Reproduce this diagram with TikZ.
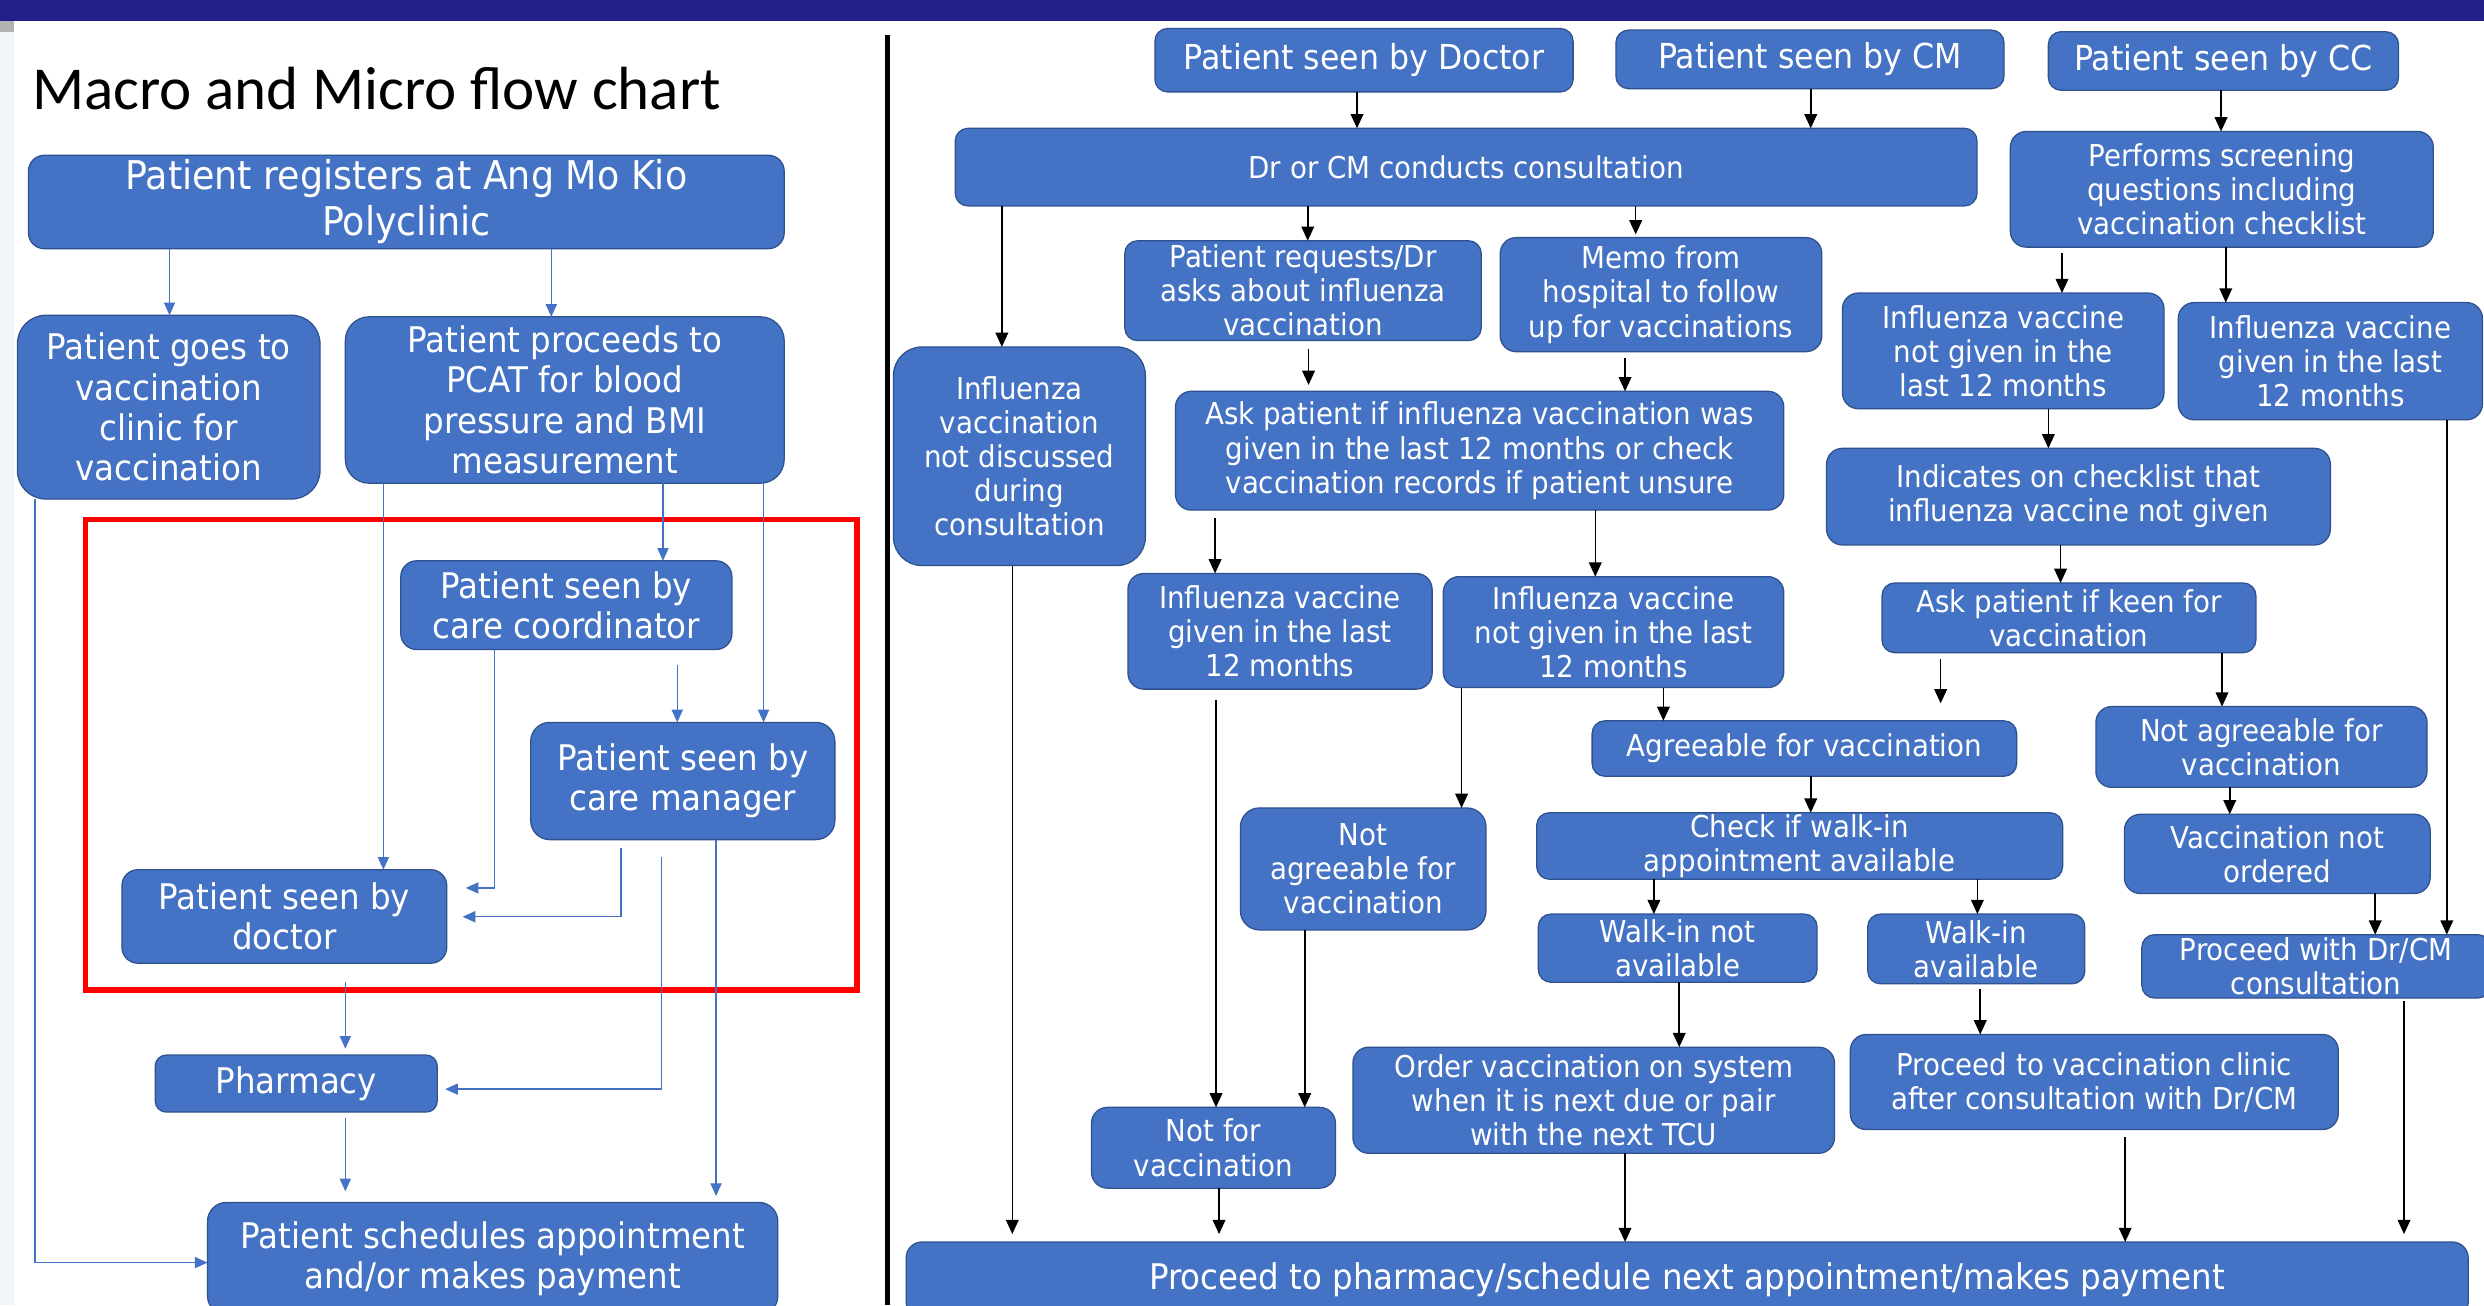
\documentclass[tikz,border=0pt]{standalone}
\usepackage{fontspec}
\setmainfont{DejaVu Sans}[FakeStretch=0.92]
\newfontfamily\titlefont{Carlito}
\usetikzlibrary{arrows.meta}
\definecolor{boxfill}{RGB}{68,114,196}
\definecolor{boxline}{RGB}{47,82,143}
\definecolor{navy}{RGB}{33,32,138}
\definecolor{strip}{RGB}{238,246,252}
\tikzset{
  box/.style={fill=boxfill, draw=boxline, line width=0.8pt, rounded corners=8pt,
    text=white, align=center, inner sep=0pt, outer sep=0pt},
  rf/.style={font={\fontsize{19}{21.5}\selectfont}},
  tf/.style={font={\fontsize{21.7}{24}\selectfont}},
  lf/.style={font={\fontsize{22.3}{25.5}\selectfont}},
  bigf/.style={font={\fontsize{25}{29}\selectfont}},
  barr/.style={draw=boxfill, line width=0.9pt, -{Triangle[width=7pt,length=8pt]}},
  karr/.style={draw=black, line width=1pt, -{Triangle[width=8pt,length=9pt]}},
}
\newcommand\bx[7][]{\node[box,#1,minimum width={(#5-#3)*1pt},minimum height={(#6-#4)*1pt}] (#2) at ({(#3+#5)/2},{(#4+#6)/2}) {#7};}
\newcommand\va[4][]{\draw[karr,#1] (#2.south-|#4,0) -- (#3.north-|#4,0);}
\newcommand\vb[4][]{\draw[barr,#1] (#2.south-|#4,0) -- (#3.north-|#4,0);}
\begin{document}
\begin{tikzpicture}[x=1pt,y=-1pt]
\useasboundingbox (0,0) rectangle (1568,824);
\fill[white] (0,0) rectangle (1568,824);
\fill[strip] (0,13) rectangle (9,824);
\fill[gray!60] (0,13) rectangle (9,20);
\fill[navy] (0,0) rectangle (1568,13);
\draw[black, line width=3pt] (560,22) -- (560,824);

% ---------- left panel ----------
\node[anchor=base west, inner sep=0pt, font={\titlefont\fontsize{38.5}{42}\selectfont}] (title) at (20,69) {Macro and Micro flow chart};

\bx[bigf,rounded corners=10pt]{reg}{18}{98}{495}{157}{Patient registers at Ang Mo Kio\\Polyclinic}
\bx[lf,rounded corners=18pt]{goes}{11}{199}{202}{315}{Patient goes to\\vaccination\\clinic for\\vaccination}
\bx[lf,rounded corners=15pt]{pcat}{218}{200}{495}{305}{Patient proceeds to\\PCAT for blood\\pressure and BMI\\measurement}
\bx[lf,rounded corners=10pt]{cc}{253}{354}{462}{410}{Patient seen by\\care coordinator}
\bx[lf,rounded corners=12pt]{cm}{335}{456}{527}{530}{Patient seen by\\care manager}
\bx[lf,rounded corners=10pt]{doc}{77}{549}{282}{608}{Patient seen by\\doctor}
\bx[lf,rounded corners=7pt]{pharm}{98}{666}{276}{702}{Pharmacy}
\bx[lf,rounded corners=12pt]{sched}{131}{759}{491}{830}{Patient schedules appointment\\and/or makes payment}

\draw[red, line width=3.5pt] (54,328) rectangle (541,625);

\vb{reg}{goes}{107}
\vb{reg}{pcat}{348}
\draw[barr] (goes.south-|22,0) |- (sched.west|-0,797);
\vb{pcat}{doc}{242}
\vb{pcat}{cc}{418.5}
\vb{pcat}{cm}{482}
\vb[shorten <=10pt]{cc}{cm}{427.5}
\draw[barr, shorten >=12pt] (cc.south-|312,0) |- (doc.east|-0,560.5);
\draw[barr, shorten <=5pt, shorten >=10pt] (cm.south-|392,0) |- (doc.east|-0,578.7);
\draw[barr, shorten <=11pt, shorten >=5pt] (cm.south-|417.5,0) |- (pharm.east|-0,687.5);
\vb[shorten >=4pt]{cm}{sched}{452}
\vb[shorten <=12pt, shorten >=4pt]{doc}{pharm}{218}
\vb[shorten <=4pt, shorten >=7pt]{pharm}{sched}{218}

% ---------- right panel ----------
\bx[tf]{pdoc}{729}{18}{993}{58}{Patient seen by Doctor}
\bx[tf]{pcm}{1020}{19}{1265}{56}{Patient seen by CM}
\bx[tf]{pcc}{1293}{20}{1514}{57}{Patient seen by CC}
\bx[rf]{cons}{603}{81}{1248}{130}{Dr or CM conducts consultation}
\bx[rf,rounded corners=10pt]{screen}{1269}{83}{1536}{156}{Performs screening\\questions including\\vaccination checklist}
\bx[rf]{req}{710}{152}{935}{215}{Patient requests/Dr\\asks about influenza\\vaccination}
\bx[rf,rounded corners=10pt]{memo}{947}{150}{1150}{222}{Memo from\\hospital to follow\\up for vaccinations}
\bx[rf,rounded corners=18pt]{notdisc}{564}{219}{723}{357}{Influenza\\vaccination\\not discussed\\during\\consultation}
\bx[rf,rounded corners=10pt]{ngcc}{1163}{185}{1366}{258}{Influenza vaccine\\not given in the\\last 12 months}
\bx[rf,rounded corners=10pt]{gcc}{1375}{191}{1567}{265}{Influenza vaccine\\given in the last\\12 months}
\bx[rf,rounded corners=10pt]{ask}{742}{247}{1126}{322}{Ask patient if influenza vaccination was\\given in the last 12 months or check\\vaccination records if patient unsure}
\bx[rf,rounded corners=10pt]{ind}{1153}{283}{1471}{344}{Indicates on checklist that\\influenza vaccine not given}
\bx[rf,rounded corners=10pt]{gl}{712}{362}{904}{435}{Influenza vaccine\\given in the last\\12 months}
\bx[rf,rounded corners=10pt]{ngl}{911}{364}{1126}{434}{Influenza vaccine\\not given in the last\\12 months}
\bx[rf]{keen}{1188}{368}{1424}{412}{Ask patient if keen for\\vaccination}
\bx[rf]{agree}{1005}{455}{1273}{490}{Agreeable for vaccination}
\bx[rf,rounded corners=10pt]{nagR}{1323}{446}{1532}{497}{Not agreeable for\\vaccination}
\bx[rf,rounded corners=12pt]{nagL}{783}{510}{938}{587}{Not\\agreeable for\\vaccination}
\bx[rf]{check}{970}{513}{1302}{555}{Check if walk-in\\appointment available}
\bx[rf,rounded corners=10pt]{vacnot}{1341}{514}{1534}{564}{Vaccination not\\ordered}
\bx[rf]{wnot}{971}{577}{1147}{620}{Walk-in not\\available}
\bx[rf]{win}{1179}{577}{1316}{621}{Walk-in\\available}
\bx[rf]{pdr}{1352}{590}{1572}{630}{Proceed with Dr/CM\\consultation}
\bx[rf,rounded corners=10pt]{order}{854}{661}{1158}{728}{Order vaccination on system\\when it is next due or pair\\with the next TCU}
\bx[rf,rounded corners=10pt]{clinic}{1168}{653}{1476}{713}{Proceed to vaccination clinic\\after consultation with Dr/CM}
\bx[rf,rounded corners=10pt]{notfor}{689}{699}{843}{750}{Not for\\vaccination}
\bx[rounded corners=10pt,font={\fontsize{22.3}{24}\selectfont}]{bottom}{572}{784}{1558}{832}{Proceed to pharmacy/schedule next appointment/makes payment}

\va{pdoc}{cons}{856.6}
\va{pcm}{cons}{1143}
\va{pcc}{screen}{1402}
\va{cons}{notdisc}{632.4}
\va{cons}{req}{825.5}
\va[shorten >=2pt]{cons}{memo}{1032.5}
\va[shorten <=4pt]{screen}{ngcc}{1301.6}
\va{screen}{gcc}{1405}
\va[shorten <=5pt, shorten >=4pt]{req}{ask}{826}
\va[shorten <=4pt]{memo}{ask}{1025.8}
\va{ngcc}{ind}{1293}
\va{ind}{keen}{1300.7}
\va[shorten <=5pt]{ask}{gl}{767}
\va{ask}{ngl}{1007}
\va{gcc}{pdr}{1544.5}
\va{ngl}{agree}{1050}
\va{ngl}{nagL}{922.6}
\coordinate (kfree) at (1225,444);
\draw[karr, shorten <=4pt] (keen.south-|kfree) -- (kfree);
\va{keen}{nagR}{1402.6}
\va{agree}{check}{1143}
\va{nagR}{vacnot}{1407.5}
\va[shorten <=7pt]{gl}{notfor}{767.6}
\va{nagL}{notfor}{823.6}
\va{check}{wnot}{1044}
\va{check}{win}{1248.2}
\va{vacnot}{pdr}{1499.3}
\va{wnot}{order}{1060}
\va[shorten <=3pt]{win}{clinic}{1250}
\va[shorten >=5pt]{notdisc}{bottom}{639}
\va[shorten >=5pt]{notfor}{bottom}{769.5}
\va{order}{bottom}{1025.8}
\va[shorten <=5pt]{clinic}{bottom}{1341.5}
\va[shorten <=2pt, shorten >=5pt]{pdr}{bottom}{1517.5}
\end{tikzpicture}
\end{document}
